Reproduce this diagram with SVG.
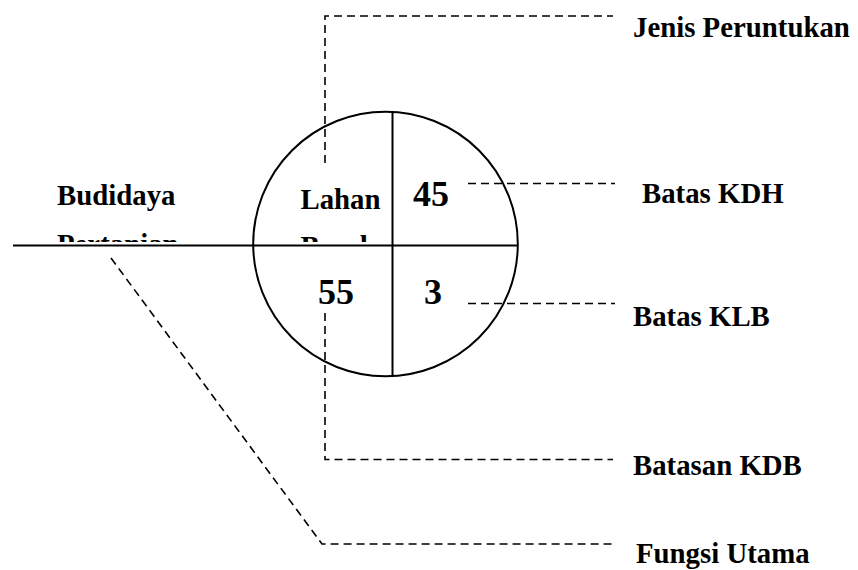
<svg xmlns="http://www.w3.org/2000/svg" width="858" height="570" viewBox="0 0 858 570">
  <style>
    text { font-family: 'Liberation Serif', 'DejaVu Serif', serif; font-weight: bold; fill: #000; }
    .lbl { font-size: 28.8px; }
    .num { font-size: 36px; }
    .dash { fill: none; stroke: #000; stroke-width: 1.6; stroke-dasharray: 8 5; }
    .solid { fill: none; stroke: #000; stroke-width: 2; }
  </style>
  <defs>
    <clipPath id="clipTop">
      <rect x="0" y="0" width="858" height="242"/>
    </clipPath>
  </defs>
  <rect width="858" height="570" fill="#fff"/>

  <g id="connectors">
    <polyline class="dash" points="325,163 325,16 613,16"/>
    <line class="dash" x1="468" y1="183.5" x2="615" y2="183.5"/>
    <line class="dash" x1="468" y1="303.5" x2="615" y2="303.5"/>
    <polyline class="dash" points="325,313 325,459.5 613,459.5"/>
    <polyline class="dash" points="111,258 322,544 613,544"/>
  </g>

  <g id="circle">
    <circle cx="385.5" cy="244" r="132.3" class="solid"/>
    <line class="solid" x1="392.5" y1="111.7" x2="392.5" y2="376.7"/>
    <line class="solid" x1="13" y1="245.5" x2="518" y2="245.5"/>
  </g>

  <g id="budidaya">
    <text class="lbl" x="57" y="205">Budidaya</text>
    <text class="lbl" x="57" y="254" clip-path="url(#clipTop)">Pertanian</text>
  </g>
  <g id="lahan">
    <text class="lbl" x="300.5" y="209">Lahan</text>
    <text class="lbl" x="300.5" y="256" clip-path="url(#clipTop)">Basah</text>
  </g>
  <g id="n45"><text class="num" x="413" y="206">45</text></g>
  <g id="n55"><text class="num" x="318" y="303.5">55</text></g>
  <g id="n3"><text class="num" x="424" y="303.5">3</text></g>

  <g id="jenis"><text class="lbl" x="633" y="37">Jenis Peruntukan</text></g>
  <g id="kdh"><text class="lbl" x="642" y="203">Batas KDH</text></g>
  <g id="klb"><text class="lbl" x="633" y="325.5">Batas KLB</text></g>
  <g id="kdb"><text class="lbl" x="633" y="474.5">Batasan KDB</text></g>
  <g id="fungsi"><text class="lbl" x="636" y="563">Fungsi Utama</text></g>
</svg>
